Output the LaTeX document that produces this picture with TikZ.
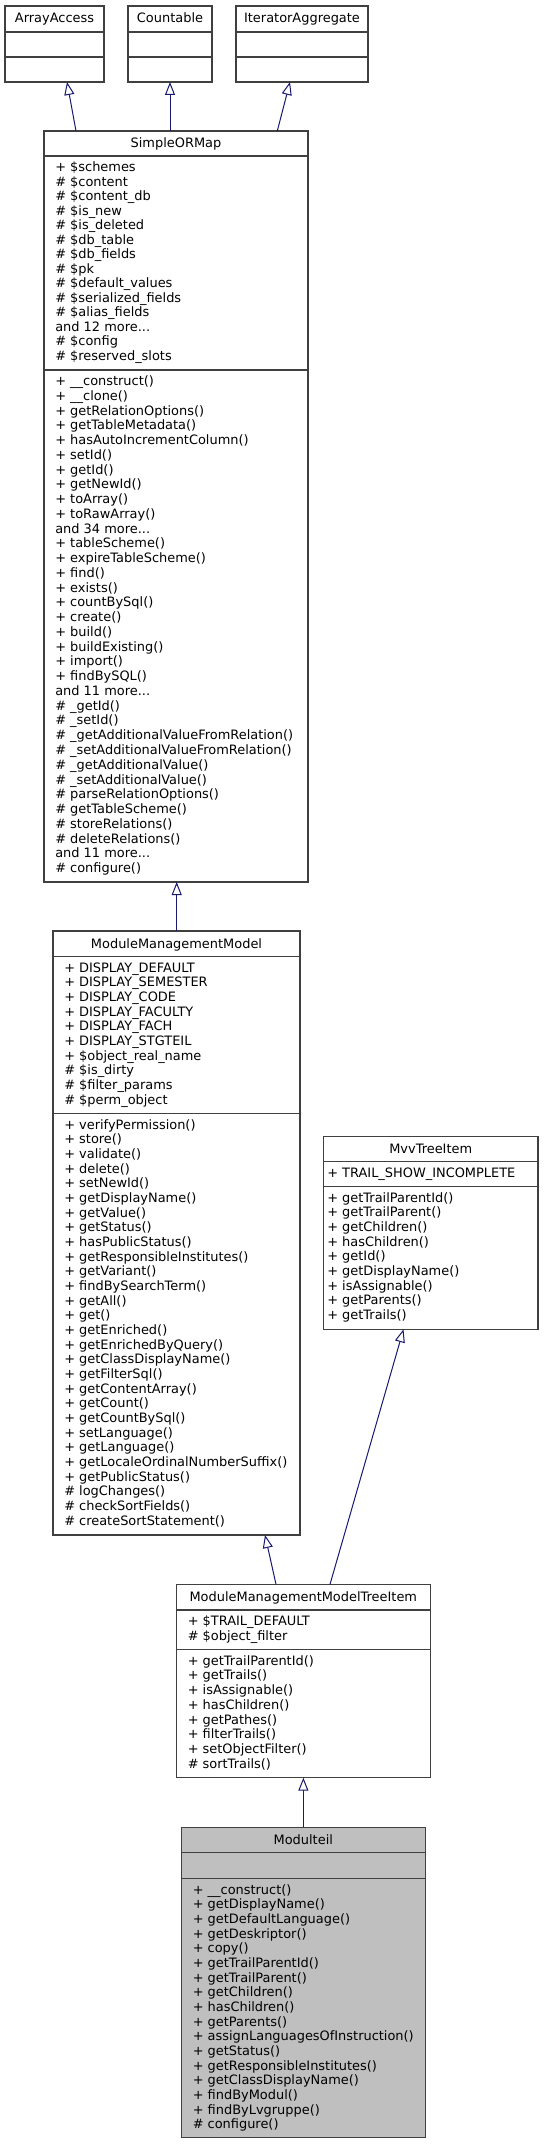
\documentclass[tikz,border=0pt]{standalone}
\usepackage{fontspec}
\newfontfamily\dvs{DejaVu Sans}
\usetikzlibrary{arrows.meta,calc}
\definecolor{edgeblue}{HTML}{191970}
\definecolor{boxline}{HTML}{404040}
\definecolor{mainfill}{HTML}{BFBFBF}
\newcommand\rowx[1]{\hbox{#1}}
\newcommand\secbox[2]{\vtop{\baselineskip=#1\lineskiplimit=-50pt\lineskip=0pt\relax#2}}
\begin{document}
\begin{tikzpicture}[x=0.75pt,y=-0.75pt,
  box/.style={draw=boxline, line width=0.8pt, fill=white, inner sep=0pt, outer sep=0pt, anchor=north west},
  ttl/.style={anchor=base, inner sep=0pt, font=\dvs\fontsize{9.7}{11}\selectfont},
  sec/.style={anchor=base west, inner sep=0pt, font=\dvs\fontsize{9.7}{11}\selectfont},
  div/.style={draw=boxline, line width=0.8pt},
  inh/.style={draw=edgeblue, line width=0.75pt, -{Triangle[fill=white, length=9.75pt, width=7.5pt]}}
]
\path[fill=white,use as bounding box] (0,0) rectangle (543,2144);

% ---- interfaces ----
\node[box, minimum width=74.25pt, minimum height=57pt] (aa) at (5,6) {};
\draw[div] (5,32) -- (104,32);
\draw[div] (5,57) -- (104,57);
\node[ttl] (aa-t) at (54.5,22.5) {ArrayAccess};

\node[box, minimum width=63pt, minimum height=57pt] (cnt) at (128,6) {};
\draw[div] (128,32) -- (212,32);
\draw[div] (128,57) -- (212,57);
\node[ttl] (cnt-t) at (170,22.5) {Countable};

\node[box, minimum width=99pt, minimum height=57pt] (ia) at (236,6) {};
\draw[div] (236,32) -- (368,32);
\draw[div] (236,57) -- (368,57);
\node[ttl] (ia-t) at (302,22.5) {IteratorAggregate};

% ---- SimpleORMap ----
\node[box, minimum width=198pt, minimum height=563.25pt] (sorm) at (44,131) {};
\draw[div] (44,156) -- (308,156);
\draw[div] (44,370) -- (308,370);
\node[ttl] (sorm-t) at (176,147.5) {SimpleORMap};
\node[sec] (sorm-a) at (55,171.5) {\secbox{10.9pt}{%
\rowx{+ \$schemes}
\rowx{\# \$content}
\rowx{\# \$content\_db}
\rowx{\# \$is\_new}
\rowx{\# \$is\_deleted}
\rowx{\# \$db\_table}
\rowx{\# \$db\_fields}
\rowx{\# \$pk}
\rowx{\# \$default\_values}
\rowx{\# \$serialized\_fields}
\rowx{\# \$alias\_fields}
\rowx{and 12 more...}
\rowx{\# \$config}
\rowx{\# \$reserved\_slots}}};
\node[sec] (sorm-m) at (55,385.5) {\secbox{11.07pt}{%
\rowx{+ \_\_construct()}
\rowx{+ \_\_clone()}
\rowx{+ getRelationOptions()}
\rowx{+ getTableMetadata()}
\rowx{+ hasAutoIncrementColumn()}
\rowx{+ setId()}
\rowx{+ getId()}
\rowx{+ getNewId()}
\rowx{+ toArray()}
\rowx{+ toRawArray()}
\rowx{and 34 more...}
\rowx{+ tableScheme()}
\rowx{+ expireTableScheme()}
\rowx{+ find()}
\rowx{+ exists()}
\rowx{+ countBySql()}
\rowx{+ create()}
\rowx{+ build()}
\rowx{+ buildExisting()}
\rowx{+ import()}
\rowx{+ findBySQL()}
\rowx{and 11 more...}
\rowx{\# \_getId()}
\rowx{\# \_setId()}
\rowx{\# \_getAdditionalValueFromRelation()}
\rowx{\# \_setAdditionalValueFromRelation()}
\rowx{\# \_getAdditionalValue()}
\rowx{\# \_setAdditionalValue()}
\rowx{\# parseRelationOptions()}
\rowx{\# getTableScheme()}
\rowx{\# storeRelations()}
\rowx{\# deleteRelations()}
\rowx{and 11 more...}
\rowx{\# configure()}}};

% ---- ModuleManagementModel ----
\node[box, minimum width=185.25pt, minimum height=453pt] (mmm) at (53,931) {};
\draw[div] (53,956.5) -- (300,956.5);
\draw[div] (53,1113.5) -- (300,1113.5);
\node[ttl] (mmm-t) at (176.5,948) {ModuleManagementModel};
\node[sec] (mmm-a) at (64,972) {\secbox{11pt}{%
\rowx{+ DISPLAY\_DEFAULT}
\rowx{+ DISPLAY\_SEMESTER}
\rowx{+ DISPLAY\_CODE}
\rowx{+ DISPLAY\_FACULTY}
\rowx{+ DISPLAY\_FACH}
\rowx{+ DISPLAY\_STGTEIL}
\rowx{+ \$object\_real\_name}
\rowx{\# \$is\_dirty}
\rowx{\# \$filter\_params}
\rowx{\# \$perm\_object}}};
\node[sec] (mmm-m) at (64,1129) {\secbox{11pt}{%
\rowx{+ verifyPermission()}
\rowx{+ store()}
\rowx{+ validate()}
\rowx{+ delete()}
\rowx{+ setNewId()}
\rowx{+ getDisplayName()}
\rowx{+ getValue()}
\rowx{+ getStatus()}
\rowx{+ hasPublicStatus()}
\rowx{+ getResponsibleInstitutes()}
\rowx{+ getVariant()}
\rowx{+ findBySearchTerm()}
\rowx{+ getAll()}
\rowx{+ get()}
\rowx{+ getEnriched()}
\rowx{+ getEnrichedByQuery()}
\rowx{+ getClassDisplayName()}
\rowx{+ getFilterSql()}
\rowx{+ getContentArray()}
\rowx{+ getCount()}
\rowx{+ getCountBySql()}
\rowx{+ setLanguage()}
\rowx{+ getLanguage()}
\rowx{+ getLocaleOrdinalNumberSuffix()}
\rowx{+ getPublicStatus()}
\rowx{\# logChanges()}
\rowx{\# checkSortFields()}
\rowx{\# createSortStatement()}}};

% ---- MvvTreeItem ----
\node[box, minimum width=160.875pt, minimum height=144.45pt] (mvv) at (323.5,1136.7) {};
\draw[div] (323.5,1161.7) -- (538,1161.7);
\draw[div] (323.5,1186.7) -- (538,1186.7);
\node[ttl] (mvv-t) at (430.7,1153.2) {MvvTreeItem};
\node[sec] (mvv-a) at (327,1177.7) {\secbox{11pt}{\rowx{+ TRAIL\_SHOW\_INCOMPLETE}}};
\node[sec] (mvv-m) at (327,1202.2) {\secbox{11pt}{%
\rowx{+ getTrailParentId()}
\rowx{+ getTrailParent()}
\rowx{+ getChildren()}
\rowx{+ hasChildren()}
\rowx{+ getId()}
\rowx{+ getDisplayName()}
\rowx{+ isAssignable()}
\rowx{+ getParents()}
\rowx{+ getTrails()}}};

% ---- ModuleManagementModelTreeItem ----
\node[box, minimum width=190pt, minimum height=145pt] (mmmti) at (176.7,1584.3) {};
\draw[div] (176.7,1610) -- (430,1610);
\draw[div] (176.7,1649.3) -- (430,1649.3);
\node[ttl] (mmmti-t) at (303.3,1601.3) {ModuleManagementModelTreeItem};
\node[sec] (mmmti-a) at (187.5,1625.5) {\secbox{11pt}{%
\rowx{+ \$TRAIL\_DEFAULT}
\rowx{\# \$object\_filter}}};
\node[sec] (mmmti-m) at (187.5,1665) {\secbox{11.08pt}{%
\rowx{+ getTrailParentId()}
\rowx{+ getTrails()}
\rowx{+ isAssignable()}
\rowx{+ hasChildren()}
\rowx{+ getPathes()}
\rowx{+ filterTrails()}
\rowx{+ setObjectFilter()}
\rowx{\# sortTrails()}}};

% ---- Modulteil ----
\node[box, fill=mainfill, minimum width=182.5pt, minimum height=232.8pt] (mt) at (181.7,1827.3) {};
\draw[div] (181.7,1852.7) -- (425,1852.7);
\draw[div] (181.7,1878.3) -- (425,1878.3);
\node[ttl] (mt-t) at (303.3,1844) {Modulteil};
\node[sec] (mt-m) at (192.5,1894) {\secbox{11pt}{%
\rowx{+ \_\_construct()}
\rowx{+ getDisplayName()}
\rowx{+ getDefaultLanguage()}
\rowx{+ getDeskriptor()}
\rowx{+ copy()}
\rowx{+ getTrailParentId()}
\rowx{+ getTrailParent()}
\rowx{+ getChildren()}
\rowx{+ hasChildren()}
\rowx{+ getParents()}
\rowx{+ assignLanguagesOfInstruction()}
\rowx{+ getStatus()}
\rowx{+ getResponsibleInstitutes()}
\rowx{+ getClassDisplayName()}
\rowx{+ findByModul()}
\rowx{+ findByLvgruppe()}
\rowx{\# configure()}}};

% ---- inheritance connectors ----
\draw[inh] ($(sorm.north west)+(32,0)$) -- ($(aa.south west)+(62,0)$);
\draw[inh] ($(sorm.north west)+(126,0)$) -- (cnt.south);
\draw[inh] ($(sorm.north west)+(233.3,0)$) -- ($(ia.south west)+(54,0)$);
\draw[inh] ($(mmm.north west)+(123.7,0)$) -- ($(sorm.south west)+(132.7,0)$);
\draw[inh] ($(mmmti.north west)+(99.3,0)$) -- ($(mmm.south west)+(212,0)$);
\draw[inh] ($(mmmti.north west)+(153.3,0)$) -- ($(mvv.south west)+(80,0)$);
\draw[inh] (mt.north) -- (mmmti.south);
\end{tikzpicture}
\end{document}
